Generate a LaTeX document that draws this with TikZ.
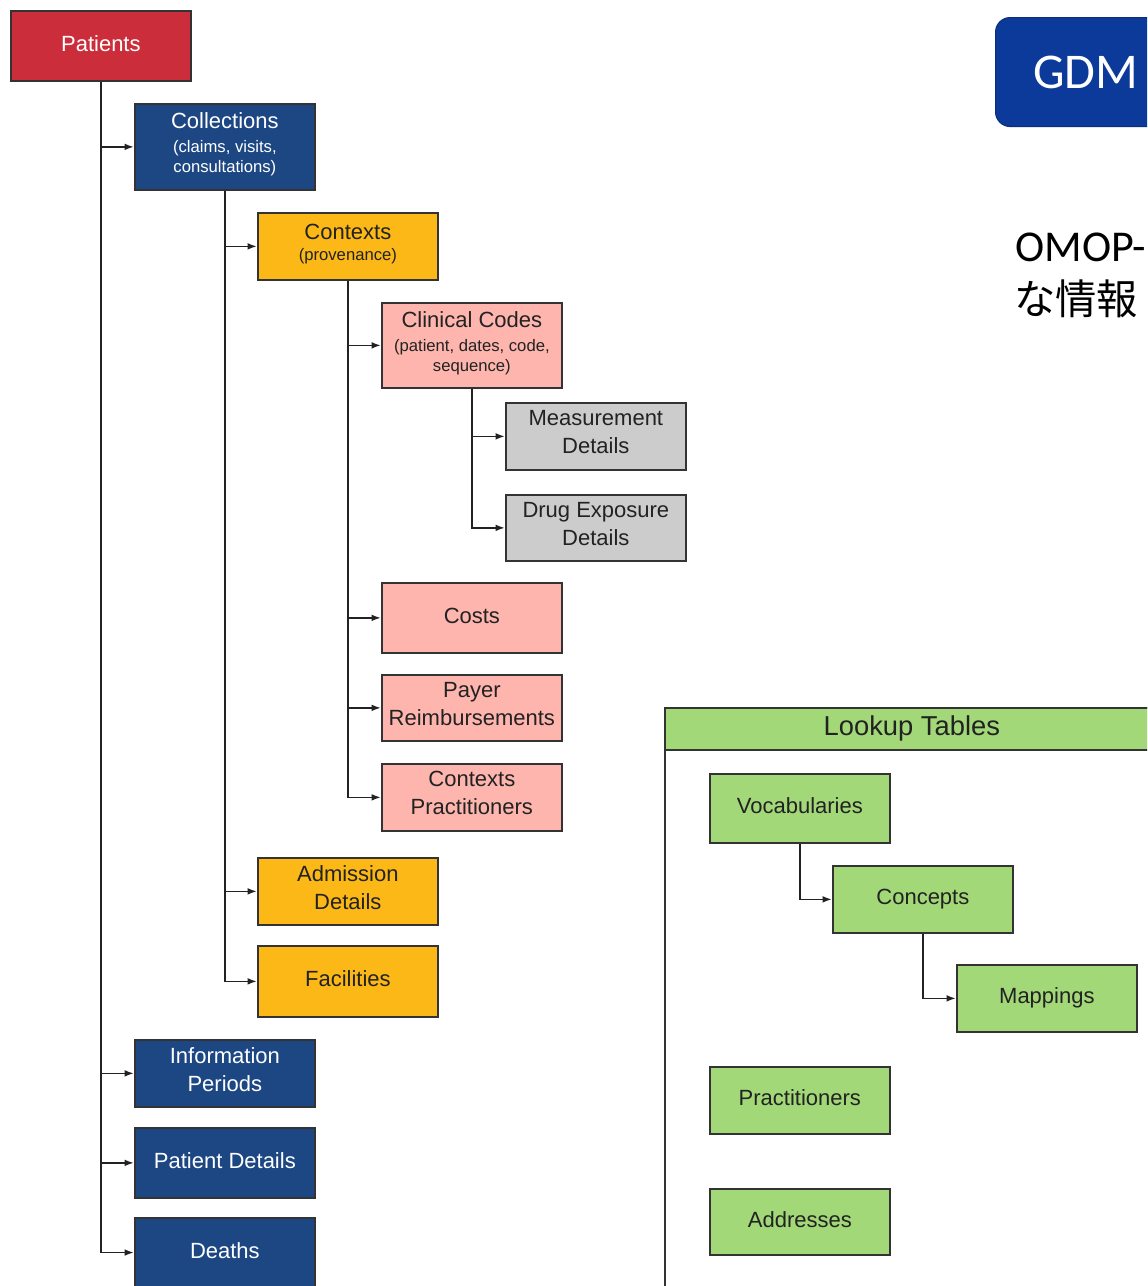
\documentclass[tikz,border=0pt]{standalone}
\usepackage{fontspec}
\setmainfont{Liberation Sans}
\newfontfamily\carlito{Carlito}
\newfontfamily\cjk{Noto Sans CJK JP}
\usetikzlibrary{arrows.meta}
\definecolor{cred}{HTML}{CB2D3A}
\definecolor{cblue}{HTML}{1C4783}
\definecolor{corange}{HTML}{FCB816}
\definecolor{cpink}{HTML}{FDB5AE}
\definecolor{cgray}{HTML}{CCCCCC}
\definecolor{cgreen}{HTML}{A2D878}
\definecolor{lineC}{HTML}{333333}
\definecolor{txtC}{HTML}{222222}
\definecolor{gdmblue}{HTML}{0C3A9A}
\newcommand{\mainsz}{\fontsize{16.5pt}{21pt}\selectfont}
\newcommand{\subsz}{\fontsize{12.5pt}{15pt}\selectfont}
\begin{document}
\begin{tikzpicture}[x=0.75pt,y=-0.75pt,
  tbl/.style={draw=lineC, line width=1.3pt, minimum width=135pt, inner sep=0pt,
    align=center, anchor=north west, font=\mainsz, text=txtC,
    execute at begin node=\strut, execute at end node=\strut},
  wtxt/.style={text=white},
  conn/.style={draw=txtC, line width=1.3pt, -{Latex[length=7pt,width=5pt]}},
]
\useasboundingbox (0,0) rectangle (1147,1286);
\clip (0,0) rectangle (1147,1286);
\fill[white] (0,0) rectangle (1147,1286);

% GDM title box
\node[draw=gdmblue!80!black, line width=0.8pt, fill=gdmblue, rounded corners=11pt,
  anchor=north west, minimum width=135pt, minimum height=81.75pt, inner sep=0pt,
  text=white, font=\carlito\fontsize{37.5pt}{40pt}\selectfont] (gdm) at (995,17) {GDM};
\node[anchor=base west, inner sep=0pt, font=\carlito\fontsize{33pt}{40pt}\selectfont] (omop1) at (1015,261) {OMOP-};
\node[anchor=base west, inner sep=0pt, font=\cjk\fontsize{31pt}{40pt}\selectfont] (omop2) at (1014,314) {な情報};

% left tree
\node[tbl, wtxt, fill=cred, minimum height=52.5pt] (patients) at (10,10) {Patients};
\node[tbl, wtxt, fill=cblue, minimum height=64.5pt] (collections) at (134,103)
  {Collections\\[-3pt]{\subsz (claims, visits,}\\[-6pt]{\subsz consultations)}};
\node[tbl, fill=corange, minimum height=50.25pt] (contexts) at (257,212)
  {Contexts\\[-5pt]{\subsz (provenance)}};
\node[tbl, fill=cpink, minimum height=63.75pt] (clinical) at (381,302)
  {Clinical Codes\\[-3pt]{\subsz (patient, dates, code,}\\[-6pt]{\subsz sequence)}};
\node[tbl, fill=cgray, minimum height=50.25pt] (measure) at (505,402) {Measurement\\Details};
\node[tbl, fill=cgray, minimum height=49.5pt] (drug) at (505,494) {Drug Exposure\\Details};
\node[tbl, fill=cpink, minimum height=52.5pt] (costs) at (381,582) {Costs};
\node[tbl, fill=cpink, minimum height=49.5pt] (payer) at (381,674) {Payer\\Reimbursements};
\node[tbl, fill=cpink, minimum height=50.25pt] (ctxprac) at (381,763) {Contexts\\Practitioners};
\node[tbl, fill=corange, minimum height=50.25pt] (admission) at (257,857) {Admission\\Details};
\node[tbl, fill=corange, minimum height=53.25pt] (facilities) at (257,945) {Facilities};
\node[tbl, wtxt, fill=cblue, minimum height=50.25pt] (info) at (134,1039) {Information\\Periods};
\node[tbl, wtxt, fill=cblue, minimum height=52.5pt] (patdet) at (134,1127) {Patient Details};
\node[tbl, wtxt, fill=cblue, minimum height=52pt] (deaths) at (134,1217) {Deaths};

\foreach \c in {collections,info,patdet,deaths}
  \draw[conn] (patients.south) |- (\c.west);
\foreach \c in {contexts,admission,facilities}
  \draw[conn] (collections.south) |- (\c.west);
\foreach \c in {clinical,costs,payer,ctxprac}
  \draw[conn] (contexts.south) |- (\c.west);
\foreach \c in {measure,drug}
  \draw[conn] (clinical.south) |- (\c.west);

% lookup tables
\node[draw=lineC, line width=1.3pt, fill=white, anchor=north west, inner sep=0pt,
  minimum width=375pt, minimum height=450pt] (lookup) at (664,707) {};
\node[draw=lineC, line width=1.3pt, fill=cgreen, anchor=north west, inner sep=0pt,
  minimum width=370.5pt, minimum height=31.5pt, text=txtC,
  font=\fontsize{20.5pt}{24pt}\selectfont] (lookuphead) at (664,707) {Lookup Tables};
\node[tbl, fill=cgreen, minimum height=51.75pt] (vocab) at (709,773) {Vocabularies};
\node[tbl, fill=cgreen, minimum height=50.25pt] (concepts) at (832,865) {Concepts};
\node[tbl, fill=cgreen, minimum height=50.25pt] (mappings) at (956,964) {Mappings};
\node[tbl, fill=cgreen, minimum height=50.25pt] (practitioners) at (709,1066) {Practitioners};
\node[tbl, fill=cgreen, minimum height=49.5pt] (addresses) at (709,1188) {Addresses};
\draw[conn] (vocab.south) |- (concepts.west);
\draw[conn] (concepts.south) |- (mappings.west);
\end{tikzpicture}
\end{document}
